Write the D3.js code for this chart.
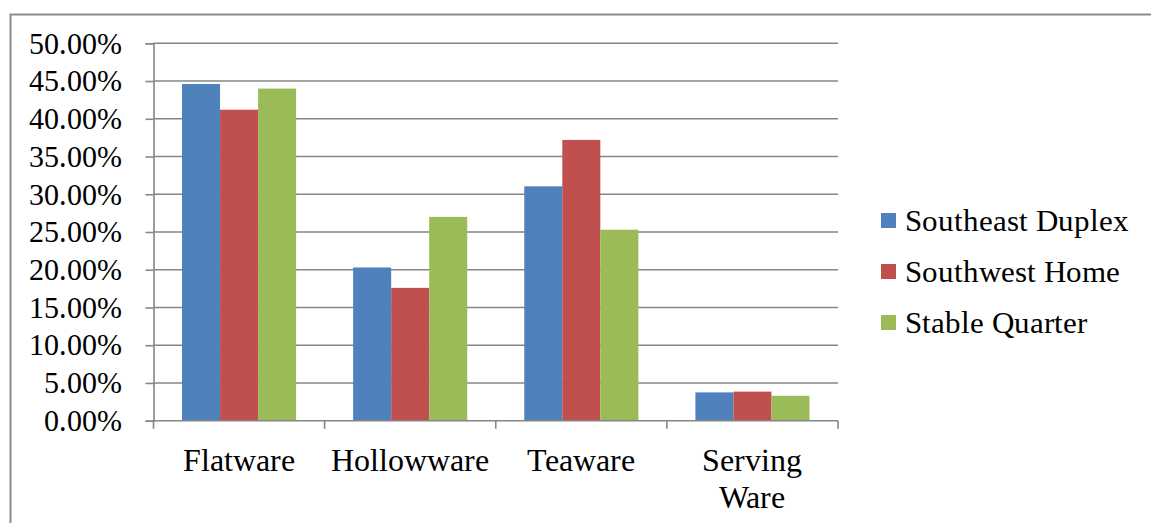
<!DOCTYPE html>
<html>
<head>
<meta charset="utf-8">
<script src="https://cdn.jsdelivr.net/npm/d3@7"></script>
<style>
  @font-face { font-family: "ChartSerif"; src: local("Liberation Serif"), local("LiberationSerif"), local("Tinos"), local("Times New Roman"); }
</style>
</head>
<body style="margin:0">
<svg id="chart" width="1151" height="523"></svg>
<script>
// Share of each vessel category by excavation area
const categories = ["Flatware", "Hollowware", "Teaware", "Serving Ware"];
const seriesNames = ["Southeast Duplex", "Southwest Home", "Stable Quarter"];
const southeastDuplex = [44.6, 20.3, 31.05, 3.75];
const southwestHome   = [41.2, 17.6, 37.2, 3.85];
const stableQuarter   = [44.0, 27.0, 25.3, 3.3];
const yTicks = [0, 5, 10, 15, 20, 25, 30, 35, 40, 45, 50];
const colors = ["#4F81BD", "#C0504D", "#9BBB59"];

const seriesValues = [southeastDuplex, southwestHome, stableQuarter];
const rows = categories.map((c, i) => ({
  category: c,
  values: seriesNames.map((s, j) => ({ series: s, value: seriesValues[j][i], idx: j }))
}));

const svg = d3.select("#chart");
const gridColor = "#868686";
const serifText = sel => sel.style("font-family", "ChartSerif").attr("fill", "#000");

// Outer chart frame
svg.append("rect")
  .attr("x", 10.5).attr("y", 14.5)
  .attr("width", 1160).attr("height", 540)
  .attr("fill", "none").attr("stroke", "#8c8c8c").attr("stroke-width", 2);

const plot = { left: 153.5, right: 838, top: 43.3, bottom: 420.7 };

const x = d3.scaleBand().domain(categories).range([plot.left, plot.right]).paddingInner(0).paddingOuter(0);
// bars fill 3/4.5 of each band (gap width 150%)
const x1 = d3.scaleBand().domain(seriesNames)
  .range([x.bandwidth() * 0.75 / 4.5, x.bandwidth() * (0.75 + 3) / 4.5]);
const y = d3.scaleLinear().domain([0, 50]).range([plot.bottom, plot.top]);

// Horizontal gridlines
svg.append("g").selectAll("line").data(yTicks.filter(d => d > 0)).join("line")
  .attr("x1", plot.left).attr("x2", plot.right)
  .attr("y1", d => y(d)).attr("y2", d => y(d))
  .attr("stroke", gridColor).attr("stroke-width", 1.6);

// Bars
const groups = svg.append("g").selectAll("g").data(rows).join("g")
  .attr("transform", d => `translate(${x(d.category)},0)`);
groups.selectAll("rect").data(d => d.values).join("rect")
  .attr("x", d => x1(d.series))
  .attr("width", x1.bandwidth())
  .attr("y", d => y(d.value))
  .attr("height", d => y(0) - y(d.value))
  .attr("fill", d => colors[d.idx]);

// Y axis
const yAxis = d3.axisLeft(y).tickValues(yTicks).tickSize(8).tickPadding(24)
  .tickFormat(d => d3.format(".2f")(d) + "%");
const gy = svg.append("g").attr("transform", `translate(${plot.left},0)`).call(yAxis);
gy.attr("font-family", null).attr("font-size", null);
gy.select(".domain").attr("stroke", gridColor).attr("stroke-width", 1.6);
gy.selectAll(".tick line").attr("stroke", gridColor).attr("stroke-width", 1.6);
gy.selectAll(".tick text").call(serifText)
  .style("font-size", "29.5px").attr("dy", "0.33em");

// X axis with ticks at band boundaries
const gx = svg.append("g");
gx.append("line")
  .attr("x1", plot.left).attr("x2", plot.right)
  .attr("y1", plot.bottom).attr("y2", plot.bottom)
  .attr("stroke", gridColor).attr("stroke-width", 1.6);
const boundaries = categories.map(c => x(c)).concat([plot.right]);
gx.selectAll("line.b").data(boundaries).join("line").attr("class", "b")
  .attr("x1", d => d).attr("x2", d => d)
  .attr("y1", plot.bottom).attr("y2", plot.bottom + 8)
  .attr("stroke", gridColor).attr("stroke-width", 1.6);

const labelLines = { "Serving Ware": ["Serving", "Ware"] };
const xl = gx.selectAll("text").data(categories).join("text")
  .attr("x", d => x(d) + x.bandwidth() / 2)
  .attr("y", 471)
  .attr("text-anchor", "middle")
  .call(serifText)
  .style("font-size", "31.5px");
xl.each(function (d) {
  const lines = labelLines[d] || [d];
  d3.select(this).selectAll("tspan").data(lines).join("tspan")
    .attr("x", x(d) + x.bandwidth() / 2)
    .attr("dy", (l, i) => i === 0 ? 0 : 37)
    .text(l => l);
});

// Legend
const legend = svg.append("g");
const items = legend.selectAll("g").data(seriesNames).join("g")
  .attr("transform", (d, i) => `translate(881,${220.5 + i * 51})`);
items.append("rect").attr("x", 0).attr("y", -7.5).attr("width", 15).attr("height", 15)
  .attr("fill", (d, i) => colors[i]);
items.append("text").attr("x", 24).attr("y", 10.5)
  .call(serifText)
  .style("font-size", "31px").text(d => d);
</script>
</body>
</html>
